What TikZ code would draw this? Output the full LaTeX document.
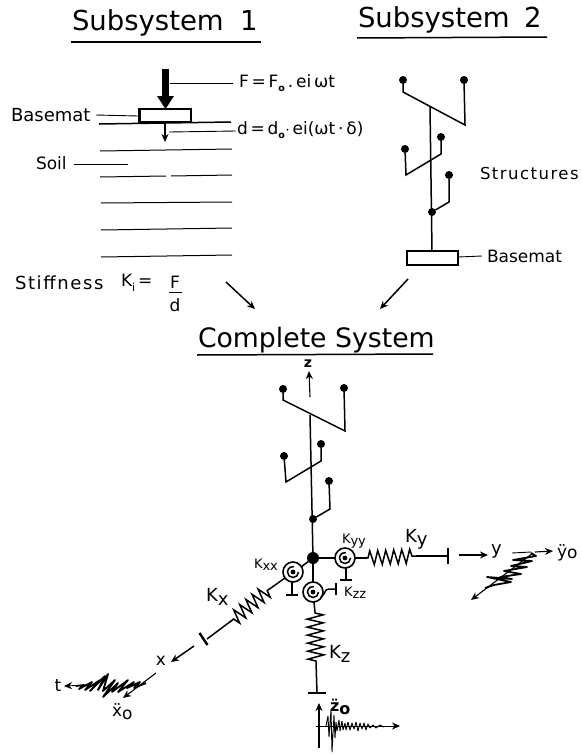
\documentclass[tikz,border=0pt]{standalone}
\usepackage{fontspec}
\setmainfont{DejaVu Sans}
\newfontfamily\spaced[LetterSpace=9]{DejaVu Sans}
\usetikzlibrary{arrows.meta,decorations.pathmorphing}
\newcommand{\sbs}[1]{\raisebox{-.35ex}{\fontsize{9.5}{10}\selectfont\bfseries #1}}
\tikzset{
  every node/.style={inner sep=0pt,outer sep=0pt,text=black},
  title/.style={anchor=base west,font=\fontsize{27.5}{29}\selectfont},
  lab/.style={anchor=west,font=\fontsize{17}{19}\selectfont},
  small/.style={anchor=west,font=\fontsize{13}{15}\selectfont},
  bigk/.style={anchor=west,font=\fontsize{18}{20}\selectfont},
  rule/.style={line width=1.5pt},
  soil/.style={line width=1pt},
  thin line/.style={line width=.9pt},
  frame/.style={line width=2.2pt},
  struct/.style={line width=1.5pt,line join=miter},
  ball/.style={circle,fill=black,minimum size=8pt},
  tip/.style={-{Stealth[length=8pt,width=7pt]},line width=1.1pt},
  springline/.style={line width=1.5pt,decorate,decoration={zigzag,segment length=8pt,amplitude=7pt,pre length=1pt,post length=1pt}},
  stop/.style={line width=2.4pt},
}
\newcommand{\spiralsym}[1]{%
  \draw[line width=1.6pt] (#1) circle (10pt);
  \draw[line width=1.5pt] (#1) ++(5.5,0) arc[start angle=0,end angle=280,radius=5.5];
  \fill (#1) circle (2.4pt);}
\begin{document}
\begin{tikzpicture}[x=1pt,y=-1pt]
\useasboundingbox[fill=white] (0,0) rectangle (581,755);

% titles
\node[title] (t1) at (72,30) {Subsystem};
\node[title] (t1n) at (240,30) {1};
\draw[rule] (71,42) -- (261,42);
\node[title] (t2) at (358,27) {Subsystem};
\node[title] (t2n) at (524,27) {2};
\draw[rule] (357,38) -- (547,37);
\node[title,font=\fontsize{26.7}{29}\selectfont] (t3) at (198,347) {Complete System};
\draw[rule] (197,355) -- (433,354);

% Subsystem 1
\fill (162,69) rectangle (169,98);
\fill (157,96) -- (174,96) -- (165.5,109) -- cycle;
\draw[frame] (139.5,109) rectangle (191,122);
\draw[rule] (99,124) -- (231,122);
\draw[tip] (165,122) -- (165,142);
\draw[thin line] (170,83) -- (233,83);
\draw[thin line] (169,132) -- (236,131);
\node[lab] (f) at (239,83) {F\,=\,F\sbs{o}\,.\,ei$\,$ωt};
\node[lab] (d) at (237,130) {d\,=\,d\sbs{o}$\cdot$\,ei(ωt\,·\,δ)};
\node[lab,font=\fontsize{18}{20}\selectfont] (bm1) at (11,115) {Basemat};
\draw[thin line] (96,115) -- (138,116);
\draw[soil] (100,151) -- (232,149);
\draw[soil] (100,177) -- (166,176);
\draw[soil] (171,176) -- (232,175);
\draw[soil] (101,203) -- (232,202);
\draw[soil] (101,230) -- (232,228);
\draw[soil] (101,257) -- (232,255);
\node[lab] (soilt) at (36,163) {Soil};
\draw[thin line] (74,164) -- (128,164);
\node[lab,font=\spaced\fontsize{18}{20}\selectfont] (stiff) at (15,283) {Stiffness};
\node[lab] (ki) at (121,283) {K\raisebox{-.5ex}{\fontsize{11}{12}\selectfont i}\,=};
\node[lab,anchor=center] (fn) at (175,282) {F};
\draw[thin line] (169,292) -- (182,292);
\node[lab,anchor=center] (fd) at (175,305) {d};
\draw[tip,line width=1.5pt] (226,282) -- (255,309);
\draw[tip,line width=1.5pt] (408,279) -- (380,309);

% Subsystem 2
\draw[struct] (430,107) -- (432,251);
\node[ball] (a1) at (403,80) {};
\node[ball] (a2) at (464,80) {};
\draw[struct] (a1) -- (403,92) -- (465,125) -- (a2);
\node[ball] (a3) at (405,149) {};
\node[ball] (a4) at (441,137) {};
\draw[struct] (a3) -- (406,175) -- (441,154) -- (a4);
\node[ball] (a5) at (432,212) {};
\node[ball] (a6) at (449,175) {};
\draw[struct] (a5) -- (449,202) -- (a6);
\draw[frame] (407,251) rectangle (458,265);
\draw[thin line] (458,257) -- (482,256);
\node[lab] (bm2) at (487,256) {Basemat};
\node[lab,font=\spaced\fontsize{16.5}{19}\selectfont] (str) at (480,173) {Structures};

% Complete system structure
\node[anchor=center,font=\fontsize{14}{16}\selectfont\bfseries] (zl) at (308,364) {z};
\draw[tip] (310,397) -- (309,371);
\node[ball] (b1) at (283,389) {};
\node[ball] (b2) at (344,388) {};
\draw[struct] (b1) -- (283,400) -- (345,431) -- (b2);
\node[ball] (b3) at (284,456) {};
\node[ball] (b4) at (321,444) {};
\draw[struct] (b3) -- (286,482) -- (321,461) -- (b4);
\node[ball] (b5) at (313,519) {};
\node[ball] (b6) at (329,481) {};
\draw[struct] (b5) -- (330,509) -- (b6);
\node[circle,fill=black,minimum size=12pt] (hub) at (313,558) {};
\draw[struct] (310,415) -- (hub);

% y direction
\coordinate (syy) at (345,558);
\spiralsym{syy}
\draw[struct] (hub) -- (335,558);
\draw[struct] (355,558) -- (367,558);
\draw[springline] (367,558) -- (416,556);
\draw[struct] (416,556) -- (448,556);
\draw[stop] (448,548) -- (448,564);
\draw[struct] (346,568) -- (346,580);
\draw[stop] (340,580) -- (352,580);
\node[small] (kyy) at (342,541) {K\raisebox{-.3ex}{yy}};
\node[bigk] (ky) at (405,539) {K\raisebox{-.3ex}{y}};
\draw[tip,line width=1.5pt] (459,555) -- (488,555);
\node[lab,font=\fontsize{18}{20}\selectfont] (yl) at (491,551) {y};
\node[lab] (yo) at (557,553) {ÿ\raisebox{-.1ex}{o}};

% y wave
\draw[line width=.9pt] (512,553) -- (531,552);
\draw[tip] (535,552) -- (553,551);
\draw[tip] (533,553) -- (471,600);
\draw[line width=1.8pt,line join=round] (531,553) -- (536,556) -- (513,560) -- (532,561) -- (511,566) -- (527,567) -- (504,571) -- (521,574) -- (500,577) -- (512,579) -- (487,577) -- (511,582) -- (494,585) -- (485,588);

% x direction
\coordinate (sxx) at (293,572);
\spiralsym{sxx}
\draw[struct] (hub) -- (301,567);
\draw[struct] (285,578) -- (268,590);
\draw[springline] (268,590) -- (230,622);
\draw[struct] (231,621) -- (207,639);
\draw[stop] (199.5,633) -- (207.5,645);
\draw[struct] (292,582) -- (292,595);
\draw[stop] (286,595) -- (298,595);
\node[small] (kxx) at (254,565) {K\raisebox{-.3ex}{xx}};
\node[bigk] (kx) at (206,597) {K\raisebox{-.4ex}{x}};
\draw[tip,line width=1.5pt] (194,646) -- (171,662);
\node[lab,anchor=center] (xl) at (161,661) {x};
\node[lab,anchor=center] (tl) at (58,686) {t};
\node[lab] (xo) at (112,712) {\"x\raisebox{-.3ex}{o}};
\draw[tip] (156,673) -- (123,698);
\draw[tip,line width=.9pt] (90,685) -- (64,686);
\draw[line width=1.8pt,line join=round] (76,686) -- (84,685) -- (79,689) -- (92,682) -- (85,690) -- (100,680) -- (90,691) -- (105,676) -- (98,690) -- (108,674) -- (103,691) -- (115,680) -- (103,697) -- (118,683) -- (112,692) -- (128,680) -- (118,692) -- (134,682) -- (127,688) -- (140,682) -- (134,688) -- (146,683);

% z direction
\coordinate (szz) at (313,592);
\spiralsym{szz}
\draw[struct] (hub) -- (313,582);
\draw[struct] (321,597) .. controls (326,594) and (324,589) .. (329,589) -- (336,589);
\draw[stop] (336,583) -- (336,595);
\node[small] (kzz) at (344,593) {K\raisebox{-.3ex}{zz}};
\draw[struct] (314,602) -- (315,612);
\draw[springline,decoration={zigzag,segment length=8pt,amplitude=8pt,pre length=1pt,post length=1pt}] (315,612) -- (316,662);
\draw[struct] (316,662) -- (317,693);
\draw[stop] (308,693) -- (326,693);
\node[bigk] (kz) at (329,654) {K\raisebox{-.4ex}{z}};
\node[lab,font=\bfseries\fontsize{16}{19}\selectfont] (zo) at (330,707) {\"z\raisebox{-.3ex}{o}};
\draw[tip] (319,748) -- (319,703);
\draw[tip,line width=.9pt] (316,726) -- (400,726);
\draw[line width=.9pt,line join=round] (326,726) -- (328,716) -- (329,737) -- (331,710) -- (332,752) -- (334,715) -- (335,738) -- (336,722) -- (337,731) -- (339,720) -- (340,731) -- (342,721) -- (343,730) -- (345,723) -- (346,730) -- (348,722) -- (350,730) -- (352,723) -- (354,729) -- (356,722) -- (358,731) -- (360,723) -- (362,729) -- (364,723) -- (366,730) -- (368,724) -- (370,728) -- (373,725) -- (376,728) -- (380,725) -- (384,727);
\end{tikzpicture}
\end{document}
